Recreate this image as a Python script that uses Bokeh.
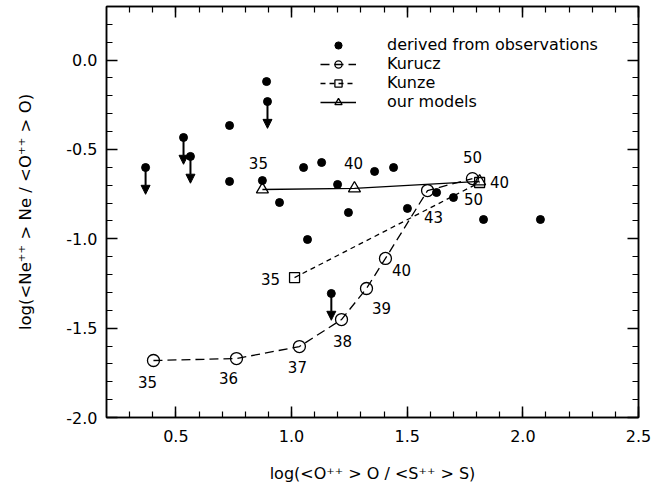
from bokeh.plotting import figure
from bokeh.models import (ColumnDataSource, LinearAxis, SingleIntervalTicker, PrintfTickFormatter,
                          Legend, LegendItem, Arrow, NormalHead, Range1d)
from bokeh.core.properties import value
from bokeh.embed import file_html
from bokeh.resources import INLINE

# ---------------- data ----------------
# derived from observations (filled dots)
obs_x = [0.732, 0.732, 0.892, 0.874, 0.948, 1.052, 1.130, 1.069, 1.199, 1.246,
         1.359, 1.441, 1.501, 1.627, 1.700, 1.830, 2.076]
obs_y = [-0.366, -0.679, -0.120, -0.674, -0.797, -0.601, -0.573, -1.004, -0.696, -0.853,
         -0.623, -0.601, -0.830, -0.741, -0.769, -0.892, -0.892]
# upper limits (dot with downward arrow)
ul_x = [0.369, 0.533, 0.563, 0.896, 1.172]
ul_y = [-0.601, -0.433, -0.539, -0.232, -1.306]

# Kurucz model atmospheres (Teff in kK)
kurucz_teff = ["35", "36", "37", "38", "39", "40", "43", "50"]
kurucz_x = [0.403, 0.762, 1.034, 1.216, 1.324, 1.406, 1.588, 1.782]
kurucz_y = [-1.681, -1.670, -1.603, -1.452, -1.278, -1.110, -0.730, -0.663]

# Kunze model atmospheres
kunze_teff = ["35", "40"]
kunze_x = [1.013, 1.813]
kunze_y = [-1.217, -0.685]

# our models
ours_teff = ["35", "40", "50"]
ours_x = [0.874, 1.272, 1.813]
ours_y = [-0.724, -0.718, -0.679]

# ---------------- layout / style ----------------
FONT = "DejaVu Sans"
ARROW_LEN = 0.15
kurucz_dx = [-6, -8, -2, 1, 15, 16, 6, 0]
kurucz_dy = [22, 19, 20, 21, 20, 12, 26, -22]
kunze_dx = [-24, 20]
kunze_dy = [1, -1]
ours_dx = [-4, -1, -6]
ours_dy = [-26, -25, 18]

p = figure(width=664, height=487,
           x_range=Range1d(0.2, 2.5), y_range=Range1d(-2.0, 0.3),
           output_backend="svg", toolbar_location=None,
           min_border_left=106, min_border_right=26, min_border_top=6, min_border_bottom=70,
           outline_line_color="black", outline_line_width=1.5,
           background_fill_color="white", border_fill_color="white")
p.grid.visible = False

xt = SingleIntervalTicker(interval=0.5, num_minor_ticks=5)
yt = SingleIntervalTicker(interval=0.5, num_minor_ticks=5)


def style_axis(ax, ticker, show_labels):
    ax.ticker = ticker
    ax.formatter = PrintfTickFormatter(format="%.1f")
    ax.axis_line_color = "black"
    ax.axis_line_width = 1.5
    ax.major_tick_in = 11
    ax.major_tick_out = 0
    ax.minor_tick_in = 6
    ax.minor_tick_out = 0
    ax.major_tick_line_width = 1.5
    ax.minor_tick_line_width = 1.2
    ax.major_tick_line_color = "black"
    ax.minor_tick_line_color = "black"
    if show_labels:
        ax.major_label_text_font = FONT
        ax.major_label_text_font_size = "16px"
        ax.major_label_text_color = "black"
        ax.axis_label_text_font = FONT
        ax.axis_label_text_font_style = "normal"
        ax.axis_label_text_color = "black"
    else:
        ax.major_label_text_font_size = "0px"
        ax.major_label_text_color = None
        ax.major_label_standoff = 0


xa = p.xaxis[0]
ya = p.yaxis[0]
style_axis(xa, xt, True)
style_axis(ya, yt, True)
xa.axis_label = "log(<O\u207a\u207a > O / <S\u207a\u207a > S)"
xa.axis_label_text_font_size = "16px"
xa.major_label_standoff = 12
xa.axis_label_standoff = 19
ya.axis_label = "log(<Ne\u207a\u207a > Ne / <O\u207a\u207a > O)"
ya.axis_label_text_font_size = "16.5px"
ya.major_label_standoff = 9
ya.axis_label_standoff = 28

top_ax = LinearAxis()
right_ax = LinearAxis()
style_axis(top_ax, xt, False)
style_axis(right_ax, yt, False)
p.add_layout(top_ax, "above")
p.add_layout(right_ax, "right")

# ---------------- model curves ----------------
kur_line = p.line(kurucz_x, kurucz_y, line_color="black", line_width=1.3, line_dash="9 5")
kunze_line = p.line(kunze_x, kunze_y, line_color="black", line_width=1.3, line_dash="5 4")
ours_line = p.line(ours_x, ours_y, line_color="black", line_width=1.3)

kur_pts = p.scatter(kurucz_x, kurucz_y, marker="circle", size=12, fill_color=None,
                    line_color="black", line_width=1.3)
kunze_pts = p.scatter(kunze_x, kunze_y, marker="square", size=10, fill_color=None,
                      line_color="black", line_width=1.3)
ours_pts = p.scatter(ours_x, ours_y, marker="triangle", size=12, fill_color=None,
                     line_color="black", line_width=1.3)

# ---------------- observations ----------------
obs_r = p.scatter(obs_x, obs_y, marker="circle", size=8, fill_color="black", line_color="black")
ul_src = ColumnDataSource(dict(x=ul_x, y=ul_y, y_end=[v - ARROW_LEN for v in ul_y]))
p.scatter("x", "y", source=ul_src, marker="circle", size=8, fill_color="black", line_color="black")
p.add_layout(Arrow(end=NormalHead(size=9, fill_color="black", line_color="black", line_width=1),
                   x_start="x", y_start="y", x_end="x", y_end="y_end", source=ul_src,
                   line_color="black", line_width=2))

# ---------------- Teff labels ----------------
def labels(xs, ys, txt, dx, dy):
    src = ColumnDataSource(dict(x=xs, y=ys, t=txt, dx=dx, dy=dy))
    p.text("x", "y", text="t", x_offset="dx", y_offset="dy", source=src,
           text_align="center", text_baseline="middle", text_color="black",
           text_font=value(FONT), text_font_size="15px")


labels(kurucz_x, kurucz_y, kurucz_teff, kurucz_dx, kurucz_dy)
labels(kunze_x, kunze_y, kunze_teff, kunze_dx, kunze_dy)
labels(ours_x, ours_y, ours_teff, ours_dx, ours_dy)

# ---------------- legend ----------------
legend = Legend(items=[
    LegendItem(label="derived from observations", renderers=[obs_r]),
    LegendItem(label="Kurucz", renderers=[kur_line, kur_pts]),
    LegendItem(label="Kunze", renderers=[kunze_line, kunze_pts]),
    LegendItem(label="our models", renderers=[ours_line, ours_pts]),
], location=(214, 306), glyph_width=36, glyph_height=18, label_height=18,
    label_standoff=31, spacing=0, padding=0, margin=0,
    border_line_color=None, background_fill_alpha=0,
    label_text_font=FONT, label_text_font_size="16px", label_text_color="black")
p.add_layout(legend)

open("out.html", "w").write(file_html(p, INLINE))
